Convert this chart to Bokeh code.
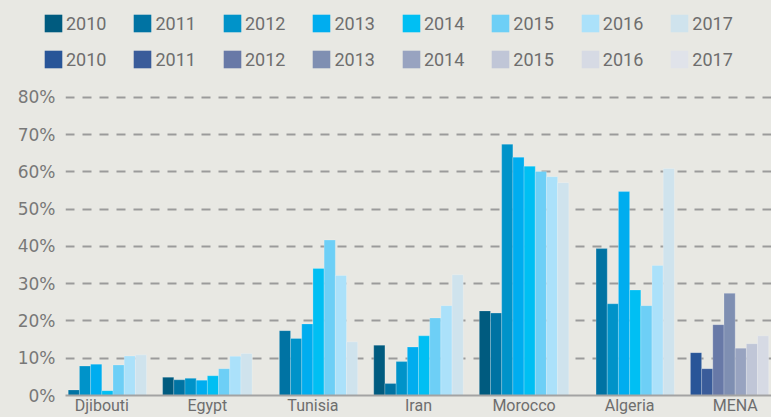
import numpy as np
from bokeh.plotting import figure
from bokeh.layouts import column
from bokeh.models import (FactorRange, Range1d, FixedTicker, Legend, LegendItem,
                          ColumnDataSource, GlobalInlineStyleSheet)
from bokeh.transform import dodge
from bokeh.embed import file_html
from bokeh.resources import INLINE

nan = float("nan")

# ---- data (% values) ----
countries = ["Djibouti", "Egypt", "Tunisia", "Iran", "Morocco", "Algeria"]
region = ["MENA"]
years = ["2010", "2011", "2012", "2013", "2014", "2015", "2016", "2017"]

djibouti = [nan, 1.5, 7.9, 8.4, 1.3, 8.2, 10.6, 10.9]
egypt = [4.9, 4.2, 4.6, 4.1, 5.3, 7.2, 10.5, 11.3]
tunisia = [nan, 17.4, 15.3, 19.2, 34.1, 41.7, 32.2, 14.4]
iran = [13.5, 3.2, 9.1, 13.0, 16.0, 20.8, 24.1, 32.4]
morocco = [22.7, 22.1, 67.4, 63.9, 61.5, 60.1, 58.7, 57.1]
algeria = [nan, 39.4, 24.6, 54.7, 28.3, 24.1, 34.9, 60.9]
mena = [11.5, 7.2, 19.0, 27.4, 12.7, 13.9, 16.0, nan]  # 2017 not visible

y_ticks = [0, 10, 20, 30, 40, 50, 60, 70, 80]
y_labels = ["0%", "10%", "20%", "30%", "40%", "50%", "60%", "70%", "80%"]

country_values = [djibouti, egypt, tunisia, iran, morocco, algeria]
region_values = [mena]

# ---- styles ----
BG = "#e8e8e3"
blues = ["#005b7f", "#0073a3", "#0093c9", "#00adef", "#00bff3", "#6dcff6", "#abe1fa", "#cfe3ed"]
menas = ["#285598", "#3a5c9a", "#6879a7", "#7f8fb2", "#98a3c0", "#c0c6d7", "#d6dae4", "#e0e3ea"]
TEXT = "#6e6e6e"
bar_w = 0.106
factors = countries + region

# main chart
p = figure(
    x_range=FactorRange(factors=factors, range_padding=-0.156, range_padding_units="absolute"),
    y_range=Range1d(0, 84.5),
    width=771, height=337,
    output_backend="svg", toolbar_location=None,
    background_fill_color=BG, border_fill_color=BG, outline_line_color=None,
    min_border_left=65, min_border_right=0, min_border_top=0, min_border_bottom=0,
)
p.stylesheets = [GlobalInlineStyleSheet(css="body{background:%s;}" % BG)]

# legend strip: hidden copies of the bar renderers, only their legend is shown
lf = figure(
    x_range=FactorRange(factors=factors), y_range=Range1d(0, 100),
    width=771, height=80, x_axis_location=None, y_axis_location=None,
    output_backend="svg", toolbar_location=None,
    background_fill_color=BG, border_fill_color=BG, outline_line_color=None,
    min_border_left=0, min_border_right=0, min_border_top=0, min_border_bottom=0,
)
lf.grid.visible = False

blue_items, mena_items = [], []
for i, yr in enumerate(years):
    off = (i - 3.5) * bar_w
    src = ColumnDataSource(dict(x=countries,
                                top=np.array([v[i] for v in country_values], dtype=float)))
    src2 = ColumnDataSource(dict(x=region,
                                 top=np.array([v[i] for v in region_values], dtype=float)))
    style = dict(width=bar_w, line_color="white", line_alpha=0.35, line_width=0.6)
    p.vbar(x=dodge("x", off, range=p.x_range), top="top", source=src, fill_color=blues[i], **style)
    p.vbar(x=dodge("x", off, range=p.x_range), top="top", source=src2, fill_color=menas[i], **style)
    lb = lf.vbar(x=dodge("x", off, range=lf.x_range), top="top", source=src,
                 fill_color=blues[i], width=bar_w, line_color=None, visible=False)
    lm = lf.vbar(x=dodge("x", off, range=lf.x_range), top="top", source=src2,
                 fill_color=menas[i], width=bar_w, line_color=None, visible=False)
    blue_items.append(LegendItem(label=yr, renderers=[lb]))
    mena_items.append(LegendItem(label=yr, renderers=[lm]))

for items, loc in ((blue_items, (42, 46)), (mena_items, (42, 10))):
    leg = Legend(items=items, orientation="horizontal", location=loc,
                 glyph_width=22, glyph_height=22, label_height=22, label_standoff=2,
                 spacing=25, padding=0, margin=0,
                 background_fill_alpha=0, border_line_color=None,
                 inactive_fill_alpha=0,
                 label_text_font="Roboto", label_text_font_size="18px",
                 label_text_color=TEXT)
    lf.add_layout(leg)

# axes
p.xaxis.axis_label = None
p.xaxis.major_tick_line_color = None
p.xaxis.major_tick_out = 0
p.xaxis.minor_tick_line_color = None
p.xaxis.axis_line_color = "#a3a3a3"
p.xaxis.axis_line_width = 2
p.xaxis.major_label_standoff = 0
p.xaxis.major_label_text_font = "Roboto"
p.xaxis.major_label_text_font_size = "16px"
p.xaxis.major_label_text_color = TEXT

ticker = FixedTicker(ticks=y_ticks)
p.yaxis.axis_label = None
p.yaxis.ticker = ticker
p.yaxis.major_label_overrides = dict(zip(y_ticks, y_labels))
p.yaxis.axis_line_color = None
p.yaxis.major_tick_line_color = None
p.yaxis.major_tick_out = 0
p.yaxis.minor_tick_line_color = None
p.yaxis.major_label_standoff = 10
p.yaxis.major_label_text_font = "DejaVu Sans"
p.yaxis.major_label_text_font_size = "17px"
p.yaxis.major_label_text_color = "#787878"

p.xgrid.grid_line_color = None
p.ygrid.ticker = ticker
p.ygrid.grid_line_color = "#9b9b9b"
p.ygrid.grid_line_width = 2
p.ygrid.grid_line_dash = "9 8"

layout = column(column(lf), p, spacing=0, styles={"background-color": BG})
open("out.html", "w").write(file_html(layout, INLINE))
